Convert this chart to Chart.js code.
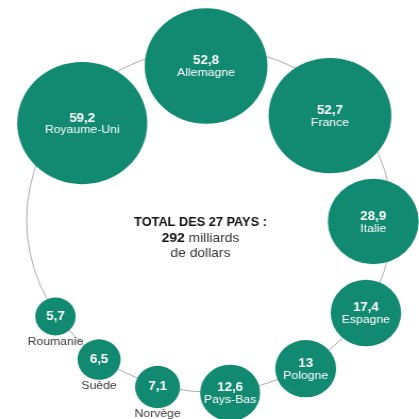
<!DOCTYPE html>
<html lang="fr">
<head>
<meta charset="utf-8">
<script src="https://cdn.jsdelivr.net/npm/chart.js@4"></script>
<style>
  html, body { margin:0; padding:0; background:#fff; overflow:hidden; }
  #wrap { width:394px; height:419px; transform:scaleX(1.0635); transform-origin:0 0; }
  canvas { display:block; }
</style>
</head>
<body>
<div id="wrap"><canvas id="chart" width="394" height="419"></canvas></div>
<script>
// Dépenses militaires (milliards de dollars), pays classés par montant
const countries = ["Royaume-Uni", "Allemagne", "France", "Italie", "Espagne", "Pologne", "Pays-Bas", "Norvège", "Suède", "Roumanie"];
const values = [59.2, 52.8, 52.7, 28.9, 17.4, 13, 12.6, 7.1, 6.5, 5.7];
const totalTitle = "TOTAL DES 27 PAYS :";
const totalValue = 292;
const totalUnit = ["milliards", "de dollars"];

const GREEN = "#128a71";
const FONT = "'Liberation Sans', Arial, sans-serif";

// mise en page : cercle de 172 px, bulles (aire ∝ valeur) enchaînées dans le sens horaire
const W = 394, H = 419;
const CX = 197, CY = 220, RING = 172;
const K = 7.95;          // px par racine de milliard
const START = -141;      // angle de la première bulle (degrés)
// l'espace entre deux bulles voisines se resserre quand elles sont grosses
function gap(r1, r2){ return 25 - 0.12 * (r1 + r2); }

const radii = values.map(v => K * Math.sqrt(v));
const dist = radii.map(r => r > 40 ? RING - 18 : RING + 2);
const angles = [START * Math.PI / 180];
for (let i = 1; i < values.length; i++) {
  const d1 = dist[i-1], d2 = dist[i];
  const D = radii[i-1] + radii[i] + gap(radii[i-1], radii[i]);
  angles.push(angles[i-1] + Math.acos((d1*d1 + d2*d2 - D*D) / (2*d1*d2)));
}
const points = values.map((v, i) => ({
  x: dist[i] * Math.cos(angles[i]) / RING,
  y: dist[i] * Math.sin(angles[i]) / RING,
  r: radii[i]
}));

function fmt(v){ return String(v).replace(".", ","); }

const ringPlugin = {
  id: "ring",
  beforeDatasetsDraw(chart){
    const {ctx, scales:{x, y}} = chart;
    const cx = x.getPixelForValue(0), cy = y.getPixelForValue(0);
    ctx.save();
    ctx.strokeStyle = "#acacac";
    ctx.lineWidth = 1;
    ctx.beginPath();
    ctx.arc(cx, cy, x.getPixelForValue(1) - cx, 0, Math.PI * 2);
    ctx.stroke();

    // total au centre
    const tx = cx - 8.5;
    ctx.textAlign = "center";
    ctx.textBaseline = "middle";
    ctx.fillStyle = "#111";
    ctx.font = "bold 12px " + FONT;
    ctx.fillText(totalTitle, tx, cy + 3);
    const num = String(totalValue), rest = " " + totalUnit[0];
    ctx.font = "bold 13px " + FONT;
    const w1 = ctx.measureText(num).width;
    ctx.font = "13px " + FONT;
    const w2 = ctx.measureText(rest).width;
    const x0 = tx - (w1 + w2) / 2;
    ctx.textAlign = "left";
    ctx.font = "bold 13px " + FONT;
    ctx.fillText(num, x0, cy + 18);
    ctx.fillStyle = "#333";
    ctx.font = "13px " + FONT;
    ctx.fillText(rest, x0 + w1, cy + 18);
    ctx.textAlign = "center";
    ctx.fillText(totalUnit[1], tx, cy + 33);
    ctx.restore();
  }
};

const labelPlugin = {
  id: "bubbleLabels",
  afterDatasetsDraw(chart){
    const {ctx} = chart;
    const meta = chart.getDatasetMeta(0);
    ctx.save();
    ctx.textAlign = "center";
    ctx.textBaseline = "middle";
    meta.data.forEach((el, i) => {
      const r = radii[i];
      if (r > 25) {
        ctx.fillStyle = "#fff";
        ctx.font = "bold 12.5px " + FONT;
        ctx.fillText(fmt(values[i]), el.x, el.y - 5);
        ctx.font = "11.5px " + FONT;
        ctx.fillText(countries[i], el.x, el.y + 7);
      } else {
        ctx.fillStyle = "#fff";
        ctx.font = "bold 12.5px " + FONT;
        ctx.fillText(fmt(values[i]), el.x, el.y);
        ctx.fillStyle = "#3a3a3a";
        ctx.font = "11.5px " + FONT;
        ctx.fillText(countries[i], el.x, el.y + r + 6);
      }
    });
    ctx.restore();
  }
};

new Chart(document.getElementById("chart"), {
  type: "bubble",
  data: {
    labels: countries,
    datasets: [{
      data: points,
      backgroundColor: GREEN,
      hoverBackgroundColor: GREEN,
      borderWidth: 0,
      hoverBorderWidth: 0,
      hoverRadius: 0,
      clip: false
    }]
  },
  options: {
    responsive: false,
    animation: false,
    events: [],
    layout: { padding: 0, autoPadding: false },
    plugins: { legend: { display: false }, tooltip: { enabled: false } },
    scales: {
      x: { type: "linear", display: false, min: -CX / RING, max: (W - CX) / RING },
      y: { type: "linear", display: false, reverse: true, min: -CY / RING, max: (H - CY) / RING }
    }
  },
  plugins: [ringPlugin, labelPlugin]
});
</script>
</body>
</html>
